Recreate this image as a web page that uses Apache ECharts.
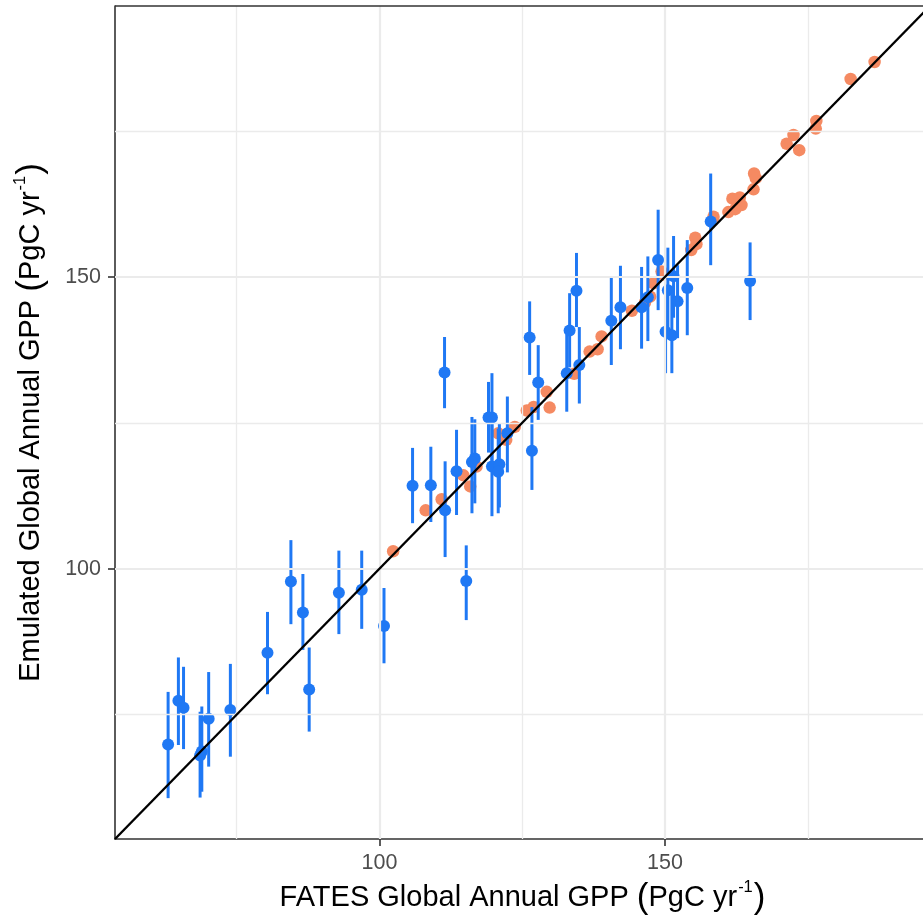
<!DOCTYPE html>
<html>
<head>
<meta charset="utf-8">
<script src="https://cdn.jsdelivr.net/npm/echarts@6/dist/echarts.min.js"></script>
<style>
  html, body { margin: 0; padding: 0; background: #fff; }
  #chart { width: 923px; height: 921px; }
</style>
</head>
<body>
<div id="chart"></div>
<script>
// Ensemble members used for training (FATES GPP vs emulated GPP), PgC/yr
const trainFates = [186.7, 182.5, 176.5, 176.4, 172.5, 171.3, 173.5, 165.6, 165.9, 165.5,
  161.8, 163.1, 163.4, 162.3, 161.1, 158.5, 155.3, 155.5, 154.6, 149.4,
  149.8, 148.0, 147.4, 146.5, 144.2, 138.9, 138.2, 136.8, 134.1, 129.3,
  129.8, 125.8, 127.0, 123.7, 122.2, 120.8, 117.0, 115.9, 114.7, 110.9,
  108.1, 102.4];
const trainEmul = [186.8, 183.9, 176.7, 175.4, 174.3, 172.8, 171.7, 167.7, 166.9, 165.0,
  163.4, 163.6, 162.3, 161.6, 161.1, 160.3, 156.7, 155.6, 154.6, 150.9,
  150.4, 148.9, 146.6, 145.6, 144.2, 139.8, 137.6, 137.2, 133.4, 130.3,
  127.6, 127.1, 127.7, 124.3, 122.1, 123.2, 117.5, 114.1, 116.0, 111.9,
  110.0, 103.0];

// Held-out members: FATES GPP, emulator mean and its uncertainty interval
const testFates = [63.0, 64.8, 65.7, 68.9, 68.6, 70.1, 73.9, 80.4, 84.5, 86.6,
  87.7, 92.9, 96.9, 100.8, 105.8, 109.0, 111.4, 111.5, 113.5, 115.2,
  116.7, 116.2, 119.1, 119.7, 119.7, 121.0, 120.8, 122.4, 126.3, 127.8,
  126.7, 133.3, 132.8, 134.5, 135.0, 140.6, 142.2, 145.9, 147.0, 148.8,
  150.5, 151.5, 152.2, 153.9, 150.1, 151.2, 158.0, 164.9];
const testEmul = [69.9, 77.4, 76.2, 68.7, 68.0, 74.3, 75.8, 85.6, 97.8, 92.5,
  79.3, 95.9, 96.4, 90.2, 114.2, 114.3, 133.6, 110.0, 116.7, 97.9,
  118.9, 118.3, 125.9, 125.9, 117.5, 117.9, 116.6, 123.2, 139.6, 131.9,
  120.2, 140.8, 133.5, 147.6, 134.9, 142.5, 144.8, 144.8, 146.5, 152.9,
  147.7, 150.1, 145.8, 148.1, 140.6, 140.0, 159.5, 149.3];
const testLower = [60.7, 69.8, 69.1, 61.8, 60.8, 66.1, 67.8, 78.5, 90.5, 86.1,
  72.1, 88.8, 89.7, 83.8, 107.8, 108.0, 127.5, 102.0, 109.2, 91.2,
  111.2, 109.5, 119.9, 118.5, 109.0, 110.5, 109.5, 116.5, 133.2, 125.5,
  113.5, 134.5, 126.9, 141.4, 128.3, 134.9, 137.6, 137.7, 139.0, 144.3,
  140.5, 143.0, 139.5, 140.0, 133.5, 133.5, 152.0, 142.6];
const testUpper = [78.9, 84.8, 83.2, 76.4, 75.5, 82.3, 83.7, 92.6, 104.9, 99.1,
  86.5, 103.1, 103.1, 96.7, 120.7, 120.9, 139.7, 118.4, 123.8, 104.0,
  125.6, 126.0, 132.0, 133.5, 125.0, 124.8, 124.0, 129.5, 145.8, 138.3,
  127.7, 147.2, 140.1, 154.1, 141.4, 150.0, 151.9, 151.7, 153.5, 161.5,
  155.0, 157.0, 152.0, 156.3, 147.5, 147.0, 167.7, 155.9];

// Axis breaks
const axisMin = 53.7;
const axisMax = 196.4;
const majorBreaks = [100, 150];
const minorBreaks = [75, 125, 175];

const BLUE = '#1f78f4';
const ORANGE = '#f58a62';
const BORDER = '#333';
const FONT = '"Liberation Sans", Arial, Helvetica, sans-serif';

const trainData = trainFates.map((x, i) => [x, trainEmul[i]]);
const testPoints = testFates.map((x, i) => [x, testEmul[i]]);
const testBars = testFates.map((x, i) => [x, testLower[i], testUpper[i]]);

// Panel grid lines (minor thinner than major), plus the top panel edge
const gridLines = [];
minorBreaks.forEach(v => {
  gridLines.push({ xAxis: v, lineStyle: { width: 1.3 } });
  gridLines.push({ yAxis: v, lineStyle: { width: 1.3 } });
});
majorBreaks.forEach(v => {
  gridLines.push({ xAxis: v, lineStyle: { width: 2.2 } });
  gridLines.push({ yAxis: v, lineStyle: { width: 2.2 } });
});
gridLines.push({ yAxis: axisMax, lineStyle: { width: 1.6, color: BORDER } });

const titleRich = {
  t: { fontSize: 29, fontFamily: FONT, color: '#000', lineHeight: 38 },
  p: { fontSize: 35, fontFamily: FONT, color: '#000', lineHeight: 38 },
  s: { fontSize: 16.5, fontFamily: FONT, color: '#000', verticalAlign: 'top', lineHeight: 38, padding: [0, 1, 17, 1] }
};

const chart = echarts.init(document.getElementById('chart'), null, { renderer: 'canvas' });
chart.setOption({
  animation: false,
  backgroundColor: '#fff',
  grid: {
    left: 115, top: 6, width: 815, height: 833,
    outerBoundsMode: 'none',
    show: false,
    containLabel: false
  },
  xAxis: {
    type: 'value', min: axisMin, max: axisMax,
    splitLine: { show: false },
    axisLine: { show: true, lineStyle: { color: BORDER, width: 1.6 } },
    axisTick: { show: true, length: 7, customValues: majorBreaks, lineStyle: { color: BORDER, width: 1.6 } },
    axisLabel: { customValues: majorBreaks, color: '#4d4d4d', fontSize: 21.5, fontFamily: FONT, margin: 13 },
    name: '{t|FATES Global Annual GPP }{p|(}{t|PgC yr}{s|-1}{p|)}',
    nameLocation: 'middle', nameGap: 38,
    nameTextStyle: { rich: titleRich }
  },
  yAxis: {
    type: 'value', min: axisMin, max: axisMax,
    splitLine: { show: false },
    axisLine: { show: true, lineStyle: { color: BORDER, width: 1.6 } },
    axisTick: { show: true, length: 7, customValues: majorBreaks, lineStyle: { color: BORDER, width: 1.6 } },
    axisLabel: { customValues: majorBreaks, color: '#4d4d4d', fontSize: 21.5, fontFamily: FONT, margin: 14 },
    name: '{t|Emulated Global Annual GPP }{p|(}{t|PgC yr}{s|-1}{p|)}',
    nameLocation: 'middle', nameGap: 65,
    nameTextStyle: { rich: titleRich }
  },
  series: [
    {
      name: 'grid', type: 'line', data: [], z: 0, silent: true,
      markLine: {
        silent: true, symbol: 'none', label: { show: false },
        lineStyle: { color: '#ebebeb', type: 'solid' },
        data: gridLines
      }
    },
    {
      name: 'train', type: 'scatter', data: trainData, z: 2,
      symbol: 'circle', symbolSize: 12.5,
      itemStyle: { color: ORANGE, opacity: 1 }
    },
    {
      name: 'test-bars', type: 'custom', data: testBars, z: 3,
      renderItem: function (params, api) {
        const x = api.value(0);
        const p1 = api.coord([x, api.value(1)]);
        const p2 = api.coord([x, api.value(2)]);
        return {
          type: 'line',
          shape: { x1: p1[0], y1: p1[1], x2: p2[0], y2: p2[1] },
          style: { stroke: BLUE, lineWidth: 3 }
        };
      }
    },
    {
      name: 'test', type: 'scatter', data: testPoints, z: 4,
      symbol: 'circle', symbolSize: 12,
      itemStyle: { color: BLUE, opacity: 1 }
    },
    {
      name: 'one-to-one', type: 'line', z: 5,
      data: [[axisMin, axisMin], [axisMax, axisMax]],
      symbol: 'none', silent: true,
      lineStyle: { color: '#000', width: 2.4 }
    }
  ]
});
</script>
</body>
</html>
